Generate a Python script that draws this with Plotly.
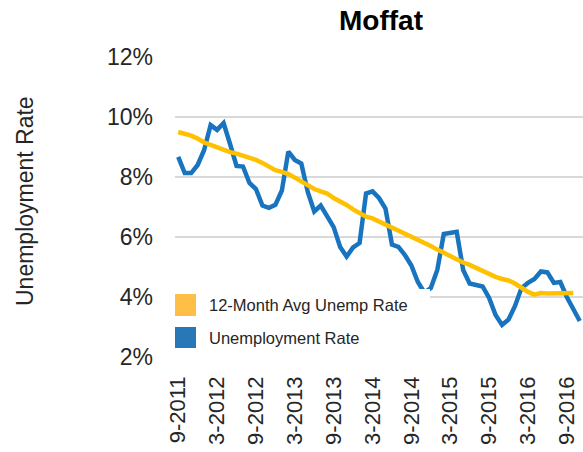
import plotly.graph_objects as go

# ---- data ----
months = []
m, yr = 9, 2011
for _ in range(63):
    months.append(f"{m}-{yr}")
    m += 1
    if m > 12:
        m, yr = 1, yr + 1

unemp_rate = [8.67, 8.13, 8.13, 8.40, 8.90, 9.73, 9.57, 9.80, 9.10, 8.37,
              8.35, 7.80, 7.60, 7.05, 6.97, 7.07, 7.55, 8.85, 8.57, 8.45,
              7.50, 6.85, 7.05, 6.67, 6.33, 5.67, 5.35, 5.65, 5.80, 7.45,
              7.52, 7.30, 6.95, 5.75, 5.67, 5.40, 5.05, 4.50, 4.15, 4.30,
              4.90, 6.10, 6.13, 6.17, 4.90, 4.45, 4.40, 4.35, 3.97, 3.40,
              3.07, 3.25, 3.70, 4.30, 4.47, 4.60, 4.85, 4.82, 4.47, 4.50,
              4.00, 3.60, 3.20]

avg12_rate = [9.50, 9.45, 9.38, 9.28, 9.15, 9.07, 8.98, 8.90, 8.83, 8.78,
              8.72, 8.65, 8.57, 8.47, 8.33, 8.23, 8.17, 8.10, 7.98, 7.85,
              7.72, 7.60, 7.52, 7.45, 7.30, 7.20, 7.07, 6.92, 6.78, 6.68,
              6.62, 6.52, 6.43, 6.33, 6.23, 6.12, 6.03, 5.90, 5.80, 5.70,
              5.58, 5.47, 5.35, 5.25, 5.15, 5.07, 4.97, 4.85, 4.75, 4.67,
              4.60, 4.55, 4.45, 4.30, 4.17, 4.08, 4.13, 4.12, 4.12, 4.13,
              4.12, 4.13]

tick_labels = months[::6]
y_ticks = [2, 4, 6, 8, 10, 12]
series_names = ["12-Month Avg Unemp Rate", "Unemployment Rate"]

# ---- figure ----
W, H = 583, 452
L, R, T, B = 175, 0, 57, 95
pw, ph = W - L - R, H - T - B

def px_x(x):
    return (x - L) / pw

def px_y(y):
    return (H - B - y) / ph

BLUE = "#1874BE"
ORANGE = "#FFC000"
TXT = "#262626"
FONT = "Liberation Sans, Arial, sans-serif"

fig = go.Figure()
fig.add_trace(go.Scatter(x=months, y=unemp_rate, mode="lines",
                         line=dict(color=BLUE, width=4.5), name=series_names[1],
                         showlegend=False, hoverinfo="skip"))
fig.add_trace(go.Scatter(x=months[:len(avg12_rate)], y=avg12_rate, mode="lines",
                         line=dict(color=ORANGE, width=4.5), name=series_names[0],
                         showlegend=False, hoverinfo="skip"))

fig.update_layout(
    width=W, height=H,
    margin=dict(l=L, r=R, t=T, b=B, pad=0),
    paper_bgcolor="white", plot_bgcolor="white",
    font=dict(family=FONT, color=TXT),
    showlegend=False,
)
fig.update_xaxes(
    type="category", categoryorder="array", categoryarray=months,
    range=[-0.5, len(months) - 0.5],
    tickmode="array", tickvals=tick_labels, ticktext=tick_labels,
    tickangle=-90, tickfont=dict(size=22, color=TXT, family=FONT),
    showgrid=False, showline=False, zeroline=False, ticks="",
    ticklabelstandoff=14, automargin=False,
)
fig.update_yaxes(
    range=[2, 12], tickmode="array", tickvals=y_ticks,
    ticktext=[f"{v}%" for v in y_ticks],
    tickfont=dict(size=23, color=TXT, family=FONT),
    showgrid=True, gridcolor="#D9D9D9", gridwidth=1.5,
    zeroline=False, showline=False, ticks="",
    ticklabelstandoff=21, automargin=False,
)

shapes = [
    # legend background
    dict(type="rect", xref="paper", yref="paper", layer="above",
         x0=px_x(170), x1=px_x(430), y0=px_y(352), y1=px_y(289),
         fillcolor="white", line=dict(width=0)),
    dict(type="rect", xref="paper", yref="paper", layer="above",
         x0=px_x(175), x1=px_x(196), y0=px_y(316), y1=px_y(294),
         fillcolor="#FFBF47", line=dict(width=0)),
    dict(type="rect", xref="paper", yref="paper", layer="above",
         x0=px_x(175), x1=px_x(196), y0=px_y(348), y1=px_y(327),
         fillcolor="#2878B8", line=dict(width=0)),
]
fig.update_layout(shapes=shapes)

annotations = [
    dict(text="<b>Moffat</b>", xref="paper", yref="paper",
         x=px_x(381), y=px_y(21), xanchor="center", yanchor="middle",
         showarrow=False, font=dict(size=28, color="black", family=FONT)),
    dict(text="Unemployment Rate", xref="paper", yref="paper",
         x=px_x(25), y=px_y(201), xanchor="center", yanchor="middle",
         textangle=-90, showarrow=False,
         font=dict(size=23, color=TXT, family=FONT)),
    dict(text=series_names[0], xref="paper", yref="paper",
         x=px_x(207), y=px_y(305), xanchor="left", yanchor="middle",
         showarrow=False, font=dict(size=16.5, color=TXT, family=FONT)),
    dict(text=series_names[1], xref="paper", yref="paper",
         x=px_x(207), y=px_y(338), xanchor="left", yanchor="middle",
         showarrow=False, font=dict(size=16.5, color=TXT, family=FONT)),
]
fig.update_layout(annotations=annotations)

fig.write_html(
    "out.html",
    config={"displayModeBar": False, "staticPlot": True},
    post_script="document.body.style.margin='0';document.body.style.overflow='hidden';",
)
